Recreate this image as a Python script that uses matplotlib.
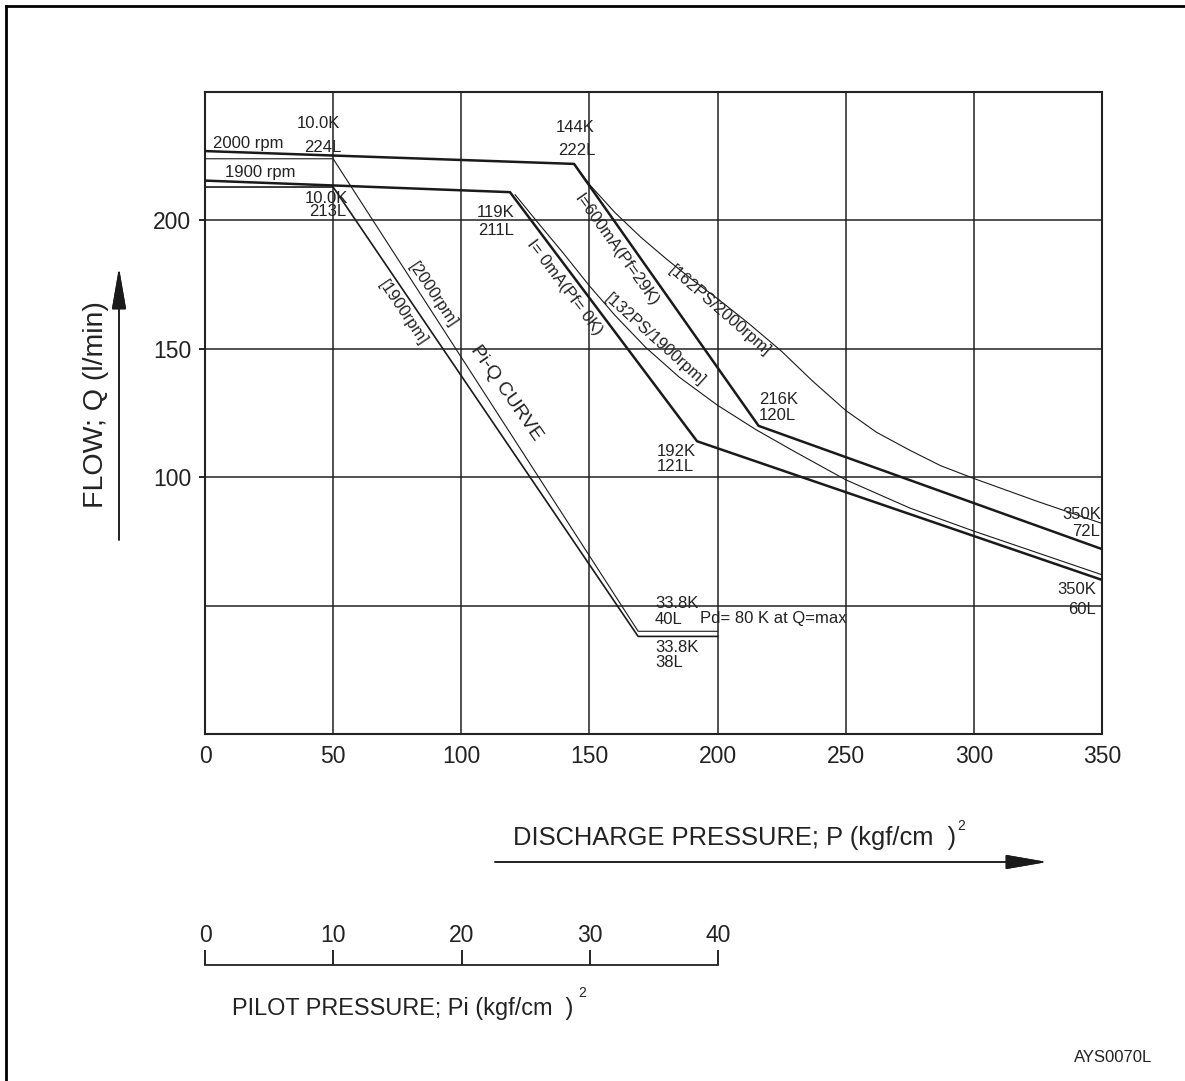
import matplotlib
matplotlib.use("Agg")
import matplotlib.pyplot as plt
from matplotlib.lines import Line2D

plt.rcParams['font.family'] = ['Liberation Sans', 'DejaVu Sans']

# discharge pressure P (kgf/cm2) vs flow Q (l/min)
# thick curves (I=600mA / 2000 rpm, I=0mA / 1900 rpm)
p_2000 = [0, 144, 216, 350]
q_2000 = [227, 222, 120, 72]
p_1900 = [0, 119, 192, 350]
q_1900 = [215.5, 211, 114, 60]

# constant power curves
p_162ps = [144, 150, 160, 170, 180, 190, 200, 212, 225, 237, 250, 262, 275, 287, 300, 325, 350]
q_162ps = [222, 214, 203, 193.5, 185, 177, 169.5, 160, 149, 137.5, 126, 117.5, 110.5, 104.5, 99.5, 90.5, 82]
p_132ps = [121, 130, 140, 150, 160, 172, 185, 200, 215, 230, 250, 275, 300, 325, 350]
q_132ps = [210, 199, 187, 174.5, 163, 150.5, 139, 128, 118.5, 110, 99, 88, 79, 70.5, 62]

# Pi-Q curves (pilot 10K -> 50, 33.8K -> 169 on the discharge scale)
p_piq = [0, 50, 169, 200]
q_piq_2000 = [224, 224, 40, 40]
q_piq_1900 = [213, 213, 38, 38]

x_ticks = [0, 50, 100, 150, 200, 250, 300, 350]
y_ticks = [100, 150, 200]
pilot_ticks = [0, 10, 20, 30, 40]

W, H = 1185, 1081
fig = plt.figure(figsize=(W / 100, H / 100), dpi=100)
txt = '#222222'

def fx(px):
    return px / W

def fy(py):
    return 1 - py / H

ax = fig.add_axes([fx(205), fy(734), fx(1102) - fx(205), fy(92) - fy(734)])
ax.set_xlim(0, 350)
ax.set_ylim(0, 250)
for v in x_ticks[1:-1]:
    ax.axvline(v, color='#222', lw=1.1, zorder=1)
for v in [50, 100, 150, 200]:
    ax.axhline(v, color='#222', lw=1.1, zorder=1)
for s in ax.spines.values():
    s.set_linewidth(1.5)
    s.set_color('#222')

ax.set_xticks(x_ticks)
ax.set_yticks(y_ticks)
ax.tick_params(axis='x', length=0, pad=8, labelsize=16.5, labelcolor=txt)
ax.tick_params(axis='y', length=4, width=1.2, pad=6, labelsize=16.5, labelcolor=txt)

thick = dict(color='#1a1a1a', lw=1.8, zorder=3)
thin = dict(color='#1a1a1a', lw=0.8, zorder=3)
ax.plot(p_2000, q_2000, **thick)
ax.plot(p_1900, q_1900, **thick)
ax.plot(p_162ps, q_162ps, **thin)
ax.plot(p_132ps, q_132ps, **thin)
ax.plot(p_piq, q_piq_2000, **thin)
ax.plot(p_piq, q_piq_1900, color='#1a1a1a', lw=1.2, zorder=3)

fs = 12
def t(x, y, s, ha='center', rot=0):
    ax.text(x, y, s, ha=ha, va='center', fontsize=fs, color=txt, rotation=rot,
            rotation_mode='anchor', clip_on=False, zorder=4)

t(44.2, 237.6, '10.0K')
t(45.9, 228.3, '224L')
t(3.1, 229.8, '2000 rpm', ha='left')
t(21.5, 218.5, '1900 rpm')
t(47.4, 208.6, '10.0K')
t(47.8, 203.5, '213L')
t(144.6, 236.3, '144K')
t(145, 227.1, '222L')
t(113.3, 203.2, '119K')
t(113.5, 196, '211L')
t(216.2, 130.3, '216K', ha='left')
t(216.2, 124.1, '120L', ha='left')
t(184, 110.2, '192K')
t(183.6, 104.2, '121L')
t(349.5, 85.3, '350K', ha='right')
t(349.2, 78.9, '72L', ha='right')
t(347.8, 56.1, '350K', ha='right')
t(347.8, 48.3, '60L', ha='right')
t(175.6, 51, '33.8K', ha='left')
t(175.6, 44.4, '40L', ha='left')
t(175.6, 33.5, '33.8K', ha='left')
t(175.6, 27.7, '38L', ha='left')
t(193.3, 45, 'Pd= 80 K at Q=max', ha='left')

t(89, 171, '[2000rpm]', rot=-56)
t(77.3, 164, '[1900rpm]', rot=-56)
ax.text(117.5, 132.8, 'Pi-Q CURVE', ha='center', va='center', fontsize=14, color=txt,
        rotation=-55, rotation_mode='anchor', zorder=4)
t(140.5, 174, 'I= 0mA(Pf= 0K)', rot=-53)
t(160.4, 188.5, 'I=600mA(Pf=29K)', rot=-54.5)
t(175.6, 153.5, '[132PS/1900rpm]', rot=-42)
t(201, 164.8, '[162PS/2000rpm]', rot=-41)

# pilot pressure scale
pax = fig.add_axes([fx(205), fy(1000), fx(718) - fx(205), fy(965) - fy(1000)])
pax.set_xlim(0, 40)
pax.set_ylim(0, 1)
pax.patch.set_visible(False)
for k in ['left', 'right', 'bottom']:
    pax.spines[k].set_visible(False)
pax.spines['top'].set_linewidth(1.3)
pax.spines['top'].set_color('#222')
pax.set_yticks([])
pax.xaxis.set_ticks_position('top')
pax.set_xticks(pilot_ticks)
pax.tick_params(axis='x', direction='out', length=11, width=1.2, pad=2,
                labelsize=16.5, labelcolor=txt, top=True, bottom=False,
                labeltop=True, labelbottom=False)

# axis titles and arrows
fig.text(fx(96), fy(405), 'FLOW; Q (l/min)', rotation=90, ha='center', va='center',
         fontsize=20.5, color=txt)
fig.text(fx(513), fy(838), 'DISCHARGE PRESSURE; P (kgf/cm  )', ha='left', va='center',
         fontsize=18.4, color=txt)
fig.text(fx(957), fy(826), '2', ha='left', va='center', fontsize=10, color=txt)
fig.text(fx(232), fy(1008), 'PILOT PRESSURE; Pi (kgf/cm  )', ha='left', va='center',
         fontsize=16.9, color=txt)
fig.text(fx(578), fy(993), '2', ha='left', va='center', fontsize=10, color=txt)
fig.text(fx(1152), fy(1057), 'AYS0070L', ha='right', va='center', fontsize=12, color=txt)

arr = dict(arrowstyle='-|>,head_length=2.6,head_width=0.45', mutation_scale=10,
           lw=1.1, color='#1a1a1a', shrinkA=0, shrinkB=0)
fig.add_artist(plt.annotate('', xy=(fx(119), fy(268)), xytext=(fx(119), fy(540)),
                            xycoords='figure fraction', arrowprops=arr))
fig.add_artist(plt.annotate('', xy=(fx(1047), fy(862)), xytext=(fx(495), fy(862)),
                            xycoords='figure fraction', arrowprops=arr))

# outer frame
fig.add_artist(Line2D([fx(6), fx(6)], [fy(6), 0], transform=fig.transFigure, color='black', lw=2))
fig.add_artist(Line2D([fx(6), 1], [fy(6), fy(6)], transform=fig.transFigure, color='black', lw=2))

fig.savefig('out.png', dpi=100)
